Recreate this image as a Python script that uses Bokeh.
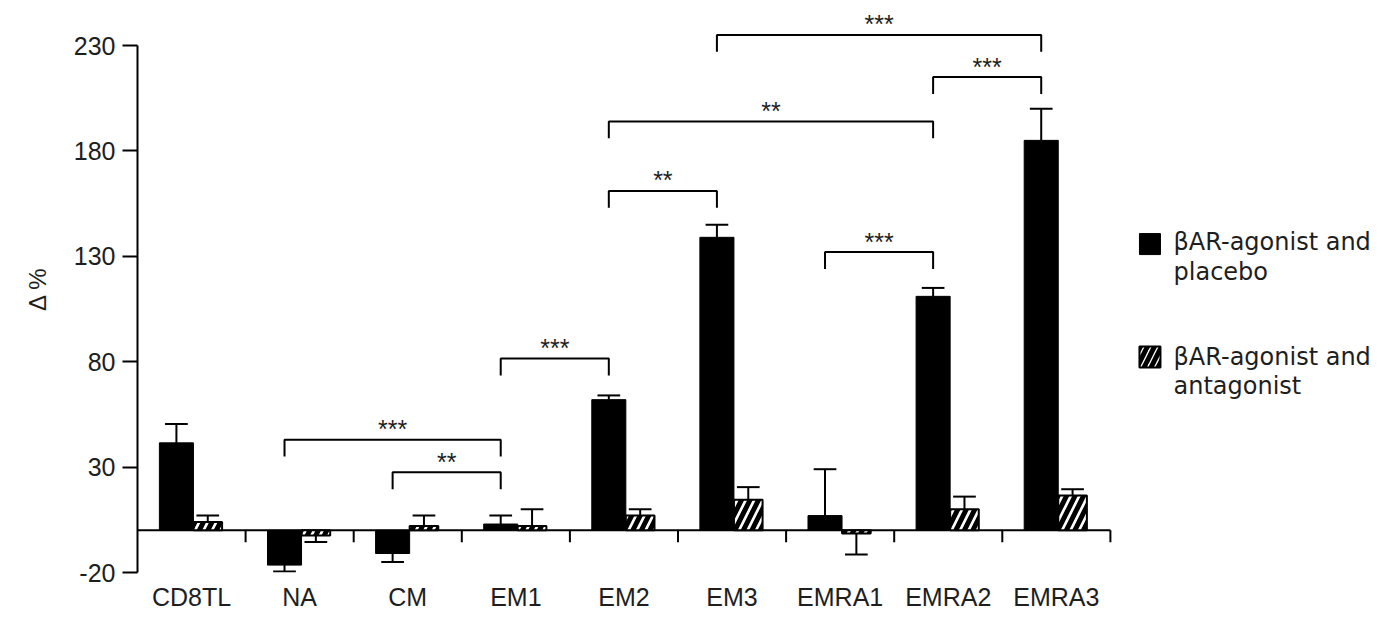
import numpy as np
from bokeh.plotting import figure
from bokeh.models import FixedTicker, CustomJSTickFormatter
from bokeh.core.properties import value
from bokeh.embed import file_html
from bokeh.resources import INLINE

# ---- data -------------------------------------------------------------
categories = ["CD8TL", "NA", "CM", "EM1", "EM2", "EM3", "EMRA1", "EMRA2", "EMRA3"]
placebo_mean = [41.5, -16.5, -11.0, 3.0, 62.0, 139.0, 7.0, 111.0, 185.0]
placebo_err = [9.0, 3.0, 4.0, 4.0, 2.0, 6.0, 22.0, 4.0, 15.0]
antagonist_mean = [4.0, -2.5, 2.0, 2.0, 7.0, 14.5, -1.5, 10.0, 16.5]
antagonist_err = [3.0, 3.0, 5.0, 8.0, 3.0, 6.0, 10.0, 6.0, 3.0]

y_ticks = [-20, 30, 80, 130, 180, 230]

# significance brackets between the placebo bars of two groups
bracket_left = ["NA", "CM", "EM1", "EM2", "EM2", "EMRA1", "EMRA2", "EM3"]
bracket_right = ["EM1", "EM1", "EM2", "EM3", "EMRA2", "EMRA2", "EMRA3", "EMRA3"]
bracket_height = [43.0, 27.5, 81.5, 161.0, 194.0, 132.0, 215.0, 235.0]
bracket_label = ["***", "**", "***", "**", "**", "***", "***", "***"]

series_names = [["βAR-agonist and", "placebo"], ["βAR-agonist and", "antagonist"]]

# ---- geometry -----------------------------------------------------------
FONT = value("Liberation Sans")
TXT = "#1e1e1e"
n = len(categories)
centers = np.arange(n) + 0.5
idx = {c: i for i, c in enumerate(categories)}
off_a, w_a = -0.14, 0.315    # filled bar
off_b, w_b = 0.15, 0.265     # hatched bar
cap = 0.21
drop = 8.0

PX_X = 108.1                  # pixels per group
PX_Y = 2.108                  # pixels per y unit
left, top, bottom = 137, 5, 69
W, H = 1395, 641
x_end = (W - left) / PX_X
y_start = -20
y_end = y_start + (H - top - bottom) / PX_Y

p = figure(width=W, height=H, x_range=(0, x_end), y_range=(y_start, y_end),
           output_backend="svg", toolbar_location=None,
           min_border_left=left, min_border_right=0,
           min_border_top=top, min_border_bottom=bottom)
p.outline_line_color = None
p.grid.visible = False
p.background_fill_color = "white"
p.border_fill_color = "white"

# y axis
ya = p.yaxis[0]
ya.bounds = (-20, 230)
ya.ticker = FixedTicker(ticks=y_ticks)
ya.formatter = CustomJSTickFormatter(code="return String(tick);")
ya.minor_tick_line_color = None
ya.major_tick_in = 0
ya.major_tick_out = 15
ya.axis_line_width = 2
ya.major_tick_line_width = 2
ya.axis_line_color = "black"
ya.major_tick_line_color = "black"
ya.major_label_text_font = "Liberation Sans"
ya.major_label_text_font_size = "25px"
ya.major_label_text_color = TXT
ya.major_label_standoff = 7
ya.axis_label = "Δ %"
ya.axis_label_text_font = "Liberation Sans"
ya.axis_label_text_font_style = "normal"
ya.axis_label_text_font_size = "24px"
ya.axis_label_text_color = TXT
ya.axis_label_standoff = 20

# x axis: group names only, the baseline is drawn at zero below
xa = p.xaxis[0]
xa.ticker = FixedTicker(ticks=list(centers))
xa.formatter = CustomJSTickFormatter(args=dict(names=categories), code="""
    const i = Math.floor(tick);
    return (i >= 0 && i < names.length) ? names[i] : "";
""")
xa.axis_line_color = None
xa.major_tick_line_color = None
xa.minor_tick_line_color = None
xa.major_tick_out = 0
xa.major_tick_in = 0
xa.major_label_standoff = 10
xa.major_label_text_font = "Liberation Sans"
xa.major_label_text_font_size = "25px"
xa.major_label_text_color = TXT

# zero line with separators between groups
p.segment(x0=0, x1=n, y0=0, y1=0, line_color="black", line_width=2)
bounds = np.arange(1, n + 1)
p.segment(x0=bounds, x1=bounds, y0=np.zeros(n), y1=np.full(n, -5.7),
          line_color="black", line_width=2)

# bars
xa_pos = centers + off_a
xb_pos = centers + off_b
p.vbar(x=xa_pos, top=placebo_mean, bottom=0, width=w_a,
       fill_color="black", line_color="black", line_width=1)
p.vbar(x=xb_pos, top=antagonist_mean, bottom=0, width=w_b,
       fill_color="white", line_color="black", line_width=2,
       hatch_pattern="/", hatch_color="black", hatch_weight=5, hatch_scale=17)

# one-sided error bars pointing away from zero
def error_bars(xs, means, errs):
    m = np.array(means)
    e = np.array(errs) * np.sign(m)
    ends = m + e
    p.segment(x0=xs, x1=xs, y0=m, y1=ends, line_color="black", line_width=2)
    p.segment(x0=xs - cap / 2, x1=xs + cap / 2, y0=ends, y1=ends,
              line_color="black", line_width=2)

error_bars(xa_pos, placebo_mean, placebo_err)
error_bars(xb_pos, antagonist_mean, antagonist_err)

# significance brackets
bx, by = [], []
sx, sy = [], []
for l, r, h in zip(bracket_left, bracket_right, bracket_height):
    xl = idx[l] + 0.5 + off_a
    xr = idx[r] + 0.5 + off_a
    bx.append([xl, xl, xr, xr])
    by.append([h - drop, h, h, h - drop])
    sx.append((xl + xr) / 2)
    sy.append(h + 5.0)
p.multi_line(xs=bx, ys=by, line_color="black", line_width=2)
p.text(x=sx, y=sy, text=bracket_label, text_font=FONT, text_font_size="25px",
       text_align="center", text_baseline="alphabetic", text_color=TXT)

# legend
lg_x = 9.366
lg_tx = 9.584
lg_sq = [135.8, 82.2]
lg_lines = [[136.7, 122.5], [82.2, 68.5]]
p.rect(x=[lg_x], y=[lg_sq[0]], width=21, height=21, width_units="screen",
       height_units="screen", fill_color="black", line_color="black")
p.rect(x=[lg_x], y=[lg_sq[1]], width=21, height=21, width_units="screen",
       height_units="screen", fill_color="white", line_color="black", line_width=2,
       hatch_pattern="/", hatch_color="black", hatch_weight=5, hatch_scale=14)
tx, ty, tt = [], [], []
for names, ys in zip(series_names, lg_lines):
    for s, yv in zip(names, ys):
        tx.append(lg_tx)
        ty.append(yv)
        tt.append(s)
p.text(x=tx, y=ty, text=tt, text_font=value("DejaVu Sans"), text_font_size="24px",
       text_align="left", text_baseline="alphabetic", text_color=TXT)

open("out.html", "w").write(file_html(p, INLINE))
